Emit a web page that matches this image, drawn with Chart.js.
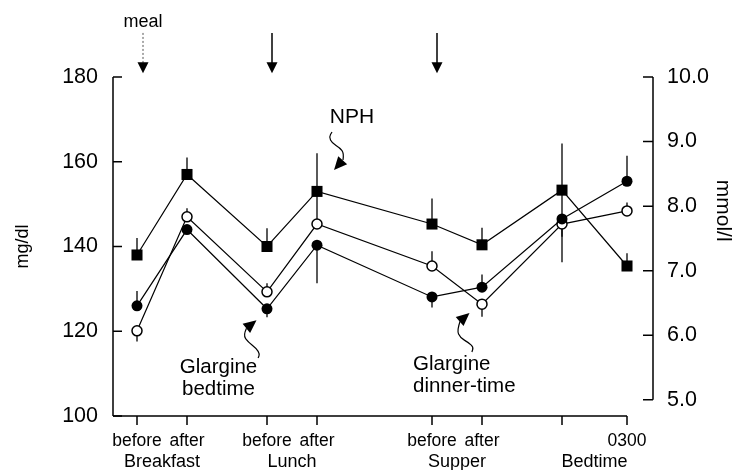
<!DOCTYPE html>
<html>
<head>
<meta charset="utf-8">
<script src="https://cdn.jsdelivr.net/npm/chart.js@4.4.1/dist/chart.umd.min.js"></script>
<style>
  body { margin: 0; background: #fff; }
  canvas { display: block; }
</style>
</head>
<body>
<canvas id="chart" width="733" height="470"></canvas>
<script>
// x positions of the measurement times (spacing as in the figure)
const xPos = [0, 1, 2.6, 3.6, 5.9, 6.9, 8.5, 9.8]
const xTickLabels = ['before', 'after', 'before', 'after', 'before', 'after', '', '0300']
const groupLabels = ['Breakfast', 'Lunch', 'Supper', 'Bedtime']
const mgTicks = [100, 120, 140, 160, 180]
const mmolTicks = [5, 6, 7, 8, 9, 10]

// NPH (filled squares)
const nph = [138, 157, 140, 153, 145.3, 140.4, 153.3, 135.4]
const nphUp = [4, 4, 4.3, 9, 6, 4, 11, 3]
const nphDown = [0, 0, 0, 8, 0, 0, 11, 0]

// Glargine bedtime (filled circles)
const glarBed = [126, 144, 125.3, 140.3, 128.1, 130.4, 146.5, 155.4]
const glarBedUp = [3.5, 0, 0, 0, 0, 3, 0, 6]
const glarBedDown = [0, 0, 2, 9, 2.5, 0, 0, 0]

// Glargine dinner-time (open circles)
const glarDin = [120.1, 147, 129.3, 145.3, 135.4, 126.4, 145.3, 148.4]
const glarDinUp = [0, 2, 2, 0, 3.5, 0, 0, 2]
const glarDinDown = [2.5, 0, 0, 0, 0, 3, 9, 0]

// meal arrows (x in data units)
const mealAt = [0.12, 2.7, 6.0]

const series = [
  { values: nph, up: nphUp, down: nphDown },
  { values: glarBed, up: glarBedUp, down: glarBedDown },
  { values: glarDin, up: glarDinUp, down: glarDinDown }
]

const toPoints = vals => vals.map((v, i) => ({ x: xPos[i], y: v }))

const FONT = "'Liberation Sans', Arial, sans-serif"
Chart.defaults.font.family = FONT
Chart.defaults.color = '#000'

/* ===============================
   helpers for the hand-drawn notes
================================ */
function arrowHead(ctx, tx, ty, ang, len, half) {
  const bx = tx - len * Math.cos(ang), by = ty - len * Math.sin(ang)
  ctx.beginPath()
  ctx.moveTo(tx, ty)
  ctx.lineTo(bx + half * Math.sin(ang), by - half * Math.cos(ang))
  ctx.lineTo(bx - half * Math.sin(ang), by + half * Math.cos(ang))
  ctx.closePath()
  ctx.fill()
}

function squiggle(ctx, tx, ty, pts) {
  // pts: offsets from the tip, first one = base of the head
  const p = pts.map(q => [tx + q[0], ty + q[1]])
  ctx.beginPath()
  ctx.moveTo(p[0][0], p[0][1])
  for (let i = 1; i < p.length - 1; i++) {
    const mx = (p[i][0] + p[i + 1][0]) / 2, my = (p[i][1] + p[i + 1][1]) / 2
    ctx.quadraticCurveTo(p[i][0], p[i][1], mx, my)
  }
  const last = p[p.length - 1]
  ctx.lineTo(last[0], last[1])
  ctx.stroke()
  const ang = Math.atan2(-pts[0][1], -pts[0][0])
  arrowHead(ctx, tx, ty, ang, 13, 6)
}

const notesPlugin = {
  id: 'notes',
  beforeDatasetsDraw(chart) {
    const { ctx } = chart
    const x = chart.scales.x, y = chart.scales.y
    ctx.save()
    ctx.strokeStyle = '#000'
    ctx.lineWidth = 1.3
    series.forEach(s => {
      s.values.forEach((v, i) => {
        if (!s.up[i] && !s.down[i]) return
        const px = x.getPixelForValue(xPos[i])
        ctx.beginPath()
        ctx.moveTo(px, y.getPixelForValue(v + s.up[i]))
        ctx.lineTo(px, y.getPixelForValue(v - s.down[i]))
        ctx.stroke()
      })
    })
    ctx.restore()
  },
  afterDraw(chart) {
    const { ctx, chartArea } = chart
    const x = chart.scales.x, y = chart.scales.y, y2 = chart.scales.y2
    ctx.save()
    ctx.strokeStyle = '#000'
    ctx.fillStyle = '#000'
    ctx.lineWidth = 1.5

    // left axis
    const lx = chartArea.left
    ctx.beginPath()
    ctx.moveTo(lx, y.getPixelForValue(mgTicks[mgTicks.length - 1]))
    ctx.lineTo(lx, y.getPixelForValue(mgTicks[0]))
    mgTicks.forEach(t => {
      const py = y.getPixelForValue(t)
      ctx.moveTo(lx, py)
      ctx.lineTo(lx + 9, py)
    })
    ctx.stroke()

    // bottom axis
    const by = y.getPixelForValue(mgTicks[0])
    ctx.beginPath()
    ctx.moveTo(lx, by)
    ctx.lineTo(x.getPixelForValue(xPos[xPos.length - 1]), by)
    xPos.forEach(v => {
      const px = x.getPixelForValue(v)
      ctx.moveTo(px, by)
      ctx.lineTo(px, by + 9)
    })
    ctx.stroke()

    // right axis
    const rx = chartArea.right
    ctx.beginPath()
    ctx.moveTo(rx, y2.getPixelForValue(mmolTicks[mmolTicks.length - 1]))
    ctx.lineTo(rx, y2.getPixelForValue(mmolTicks[0]))
    mmolTicks.forEach(t => {
      const py = y2.getPixelForValue(t)
      ctx.moveTo(rx, py)
      ctx.lineTo(rx - 10, py)
    })
    ctx.stroke()

    // group labels under the ticks
    ctx.font = '18px ' + FONT
    ctx.textAlign = 'center'
    ctx.textBaseline = 'middle'
    groupLabels.forEach((g, i) => {
      const mid = (xPos[2 * i] + xPos[2 * i + 1]) / 2
      ctx.fillText(g, x.getPixelForValue(mid), by + 46)
    })

    // right axis title
    ctx.save()
    ctx.font = '21px ' + FONT
    ctx.translate(723, y2.getPixelForValue(7.93))
    ctx.rotate(Math.PI / 2)
    ctx.fillText('mmol/l', 0, 0)
    ctx.restore()

    // meal arrows
    mealAt.forEach((m, i) => {
      const px = x.getPixelForValue(m)
      const top = y.getPixelForValue(190.4)
      const tip = y.getPixelForValue(180.9)
      ctx.save()
      if (i === 0) { ctx.setLineDash([2, 2]); ctx.lineWidth = 1; ctx.strokeStyle = '#555' }
      ctx.beginPath()
      ctx.moveTo(px, top)
      ctx.lineTo(px, tip - 10)
      ctx.stroke()
      ctx.restore()
      arrowHead(ctx, px, tip, Math.PI / 2, 11, 5.5)
    })
    ctx.font = '18px ' + FONT
    ctx.fillText('meal', x.getPixelForValue(mealAt[0]), y.getPixelForValue(193))

    // text notes
    ctx.font = '21px ' + FONT
    ctx.fillText('NPH', x.getPixelForValue(4.3), y.getPixelForValue(170.6))
    ctx.font = '20.5px ' + FONT
    ctx.fillText('Glargine', x.getPixelForValue(1.63), y.getPixelForValue(111.6))
    ctx.fillText('bedtime', x.getPixelForValue(1.63), y.getPixelForValue(106.4))
    ctx.textAlign = 'left'
    ctx.fillText('Glargine', x.getPixelForValue(5.52), y.getPixelForValue(112.3))
    ctx.fillText('dinner-time', x.getPixelForValue(5.52), y.getPixelForValue(107.1))

    // wavy pointer arrows
    ctx.lineWidth = 1.2
    squiggle(ctx, x.getPixelForValue(3.94), y.getPixelForValue(158.05),
      [[9, -10], [10, -17], [6, -22], [-2, -27], [-5, -33], [-2, -38]])
    squiggle(ctx, x.getPixelForValue(2.39), y.getPixelForValue(122.6),
      [[-10, 8], [-13.4, 15], [-8.4, 21.7], [0, 28.3], [3.3, 34], [1.6, 37.7]])
    squiggle(ctx, x.getPixelForValue(6.65), y.getPixelForValue(124.3),
      [[-9.3, 8], [-12.6, 17.3], [-9.3, 24.6], [-1, 29.6], [4, 34], [2.4, 39]])

    ctx.restore()
  }
}

new Chart(document.getElementById('chart'), {
  type: 'line',
  data: {
    datasets: [
      {
        label: 'NPH',
        data: toPoints(nph),
        borderColor: '#000',
        borderWidth: 1.2,
        pointStyle: 'rect',
        pointRadius: 7.8,
        pointBackgroundColor: '#000',
        pointBorderColor: '#000',
        pointBorderWidth: 0
      },
      {
        label: 'Glargine bedtime',
        data: toPoints(glarBed),
        borderColor: '#000',
        borderWidth: 1.2,
        pointStyle: 'circle',
        pointRadius: 5.5,
        pointBackgroundColor: '#000',
        pointBorderColor: '#000',
        pointBorderWidth: 0
      },
      {
        label: 'Glargine dinner-time',
        data: toPoints(glarDin),
        borderColor: '#000',
        borderWidth: 1.2,
        pointStyle: 'circle',
        pointRadius: 5,
        pointBackgroundColor: '#fff',
        pointBorderColor: '#000',
        pointBorderWidth: 1.5
      }
    ]
  },
  options: {
    responsive: false,
    animation: false,
    layout: { padding: { top: 77, left: 0, right: 0, bottom: 0 } },
    plugins: {
      legend: { display: false },
      tooltip: { enabled: false }
    },
    scales: {
      x: {
        type: 'linear',
        min: -0.48,
        max: 10.32,
        grid: { display: false, drawTicks: false },
        border: { display: false },
        afterBuildTicks: s => { s.ticks = xPos.map(v => ({ value: v })) },
        afterFit: s => { s.height = 54 },
        ticks: {
          autoSkip: false,
          maxRotation: 0,
          padding: 15,
          font: { size: 17.5 },
          callback: (v, i) => xTickLabels[i]
        }
      },
      y: {
        position: 'left',
        min: 100,
        max: 180,
        grid: { display: false, drawTicks: false },
        border: { display: false },
        afterBuildTicks: s => { s.ticks = mgTicks.map(v => ({ value: v })) },
        afterFit: s => { s.width = 113 },
        ticks: { padding: 15, font: { size: 21.5 } },
        title: { display: true, text: 'mg/dl', font: { size: 18 }, padding: { top: 12 } }
      },
      y2: {
        position: 'right',
        min: 4.75,
        max: 10,
        grid: { display: false, drawTicks: false },
        border: { display: false },
        afterBuildTicks: s => { s.ticks = mmolTicks.map(v => ({ value: v })) },
        afterFit: s => { s.width = 80 },
        ticks: {
          padding: 14,
          font: { size: 21.5 },
          callback: v => v.toFixed(1)
        }
      }
    }
  },
  plugins: [notesPlugin]
})
</script>
</body>
</html>
